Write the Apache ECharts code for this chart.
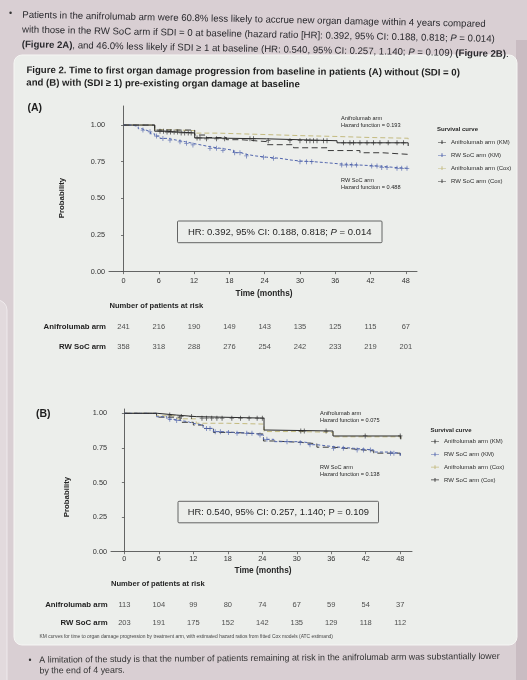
<!DOCTYPE html>
<html lang="en">
<head>
    <meta charset="UTF-8">
    <title>Figure 2 - time to organ damage</title>
    <script src="https://cdn.jsdelivr.net/npm/echarts@6/dist/echarts.min.js"></script>
    <style>
        html, body { margin: 0; padding: 0; background: #d9cfd3; }
        #main { width: 527px; height: 680px; }
    </style>
</head>
<body>
<div id="main"></div>
<script>
    var FONT = 'Liberation Sans, Arial, sans-serif';

    // ---- data (months, survival probability) ----
    var xTicks = [0, 6, 12, 18, 24, 30, 36, 42, 48];
    var yTicks = [0, 0.25, 0.5, 0.75, 1];
    var rowNames = ['Anifrolumab arm', 'RW SoC arm'];
    var legendNames = ['Anifrolumab arm (KM)', 'RW SoC arm (KM)', 'Anifrolumab arm (Cox)', 'RW SoC arm (Cox)'];

    // (A) SDI = 0
    var aniKmA = [[0,1],[5.3,0.958],[7,0.952],[9.5,0.946],[12.1,0.912],[14,0.906],[24.3,0.893],[36.3,0.879],[48.4,0.857]];
    var rwKmA = [[0,1],[1.5,0.99],[2.5,0.975],[3.1,0.966],[3.8,0.954],[4.6,0.94],[5.3,0.925],[6.2,0.909],[7.5,0.897],[9,0.886],
        [10.5,0.875],[11.8,0.864],[13.2,0.852],[14.7,0.841],[16.5,0.828],[18.7,0.811],[20,0.8],[20.9,0.789],[22.5,0.781],
        [24.3,0.773],[26.6,0.761],[28.5,0.755],[30,0.75],[32.3,0.743],[34.5,0.735],[36.8,0.727],[40.2,0.72],[43.6,0.711],
        [46,0.705],[48.4,0.698]];
    var coxAniA = [[0,1],[5.3,0.968],[8,0.962],[12.1,0.945],[16,0.94],[20,0.935],[24.3,0.928],[30,0.922],[36.3,0.915],[42,0.91],[48.4,0.903]];
    var coxRwA = [[0,1],[5.3,0.966],[12.1,0.932],[14,0.915],[17.5,0.9],[20,0.887],[24.3,0.866],[28.9,0.845],[34.6,0.826],[40.2,0.811],[44,0.8],[48.4,0.791]];
    var aniCensorA = [6.2,6.8,7.4,8,8.6,9.2,9.8,10.4,11,11.5,12.5,13,14.1,15.8,17.2,21.5,22.1,24.6,28.3,30,31.1,31.7,32.3,32.9,
        34,34.6,37.4,38.5,39.1,40.2,41.4,42.5,43.6,45,46.5,47.6];
    var rwCensorA = [3.3,4.5,5.6,6.7,7.9,9.6,10.7,11.8,14.7,15.8,16.9,18.9,19.8,20.9,23.8,25.5,30,31.1,32,37.1,37.9,38.8,
        39.6,42.2,43.1,43.9,44.8,46.5,47.3,48.2];
    var riskAniA = [241, 216, 190, 149, 143, 135, 125, 115, 67];
    var riskRwA = [358, 318, 288, 276, 254, 242, 233, 219, 201];

    // (B) SDI >= 1
    var aniKmB = [[0,1],[5.7,0.987],[9.1,0.976],[12.5,0.965],[24.3,0.879],[25,0.872],[36.3,0.836],[48.1,0.812]];
    var rwKmB = [[0,1],[5.6,0.975],[7.4,0.957],[8.5,0.948],[9.7,0.94],[11,0.927],[12,0.915],[13.7,0.891],[15.5,0.867],[17,0.862],
        [19,0.855],[22.5,0.843],[24.2,0.812],[26,0.795],[30.6,0.788],[32,0.773],[33.5,0.759],[36.4,0.747],[39.9,0.735],
        [43.4,0.72],[46.3,0.711],[48,0.682]];
    var coxAniB = [[0,1],[5.6,0.982],[9.1,0.96],[12.5,0.928],[18,0.922],[24.3,0.868],[30.6,0.862],[36.3,0.83],[48.1,0.818]];
    var coxRwB = [[0,1],[5.6,0.972],[9.7,0.935],[12,0.915],[13.7,0.89],[15.5,0.862],[19,0.85],[24.2,0.8],[26,0.79],[30.6,0.78],
        [33.5,0.755],[36.4,0.742],[39.9,0.728],[43.4,0.712],[48,0.69]];
    var aniCensorB = [7.9,9.9,11.7,13.5,14.3,15.2,16.1,17,18.7,20.2,21.7,23.1,24,30.7,31.3,35.1,41.9,48];
    var rwCensorB = [7.9,9.1,14.3,14.9,15.8,16.7,18.1,19.6,21.3,22.2,23.6,24.8,28.3,30.6,32.3,36.4,38.1,40.5,41.6,42.8,46.3,46.9];
    var riskAniB = [113, 104, 99, 80, 74, 67, 59, 54, 37];
    var riskRwB = [203, 191, 175, 152, 142, 135, 129, 118, 112];

    // ---- helpers ----
    // value of a KM step curve at time t
    function stepAt(curve, t) {
        var v = curve[0][1];
        for (var i = 0; i < curve.length; i++) {
            if (curve[i][0] <= t) v = curve[i][1];
        }
        return v;
    }
    function censorPoints(curve, times) {
        return times.map(function (t) { return [t, stepAt(curve, t)]; });
    }
    function riskRows(ani, rw) {
        var out = [];
        xTicks.forEach(function (m, i) {
            out.push([m, rowNames[0], ani[i]]);
            out.push([m, rowNames[1], rw[i]]);
        });
        return out;
    }

    var plusSymbol = 'path://M-0.45,-3H0.45V-0.45H2.5V0.45H0.45V3H-0.45V0.45H-2.5V-0.45H-0.45Z';
    var legendIcon = 'path://M0,2.6H10V3.4H0Z M4.4,0.6H5.6V5.4H4.4Z';

    var colAniKm = '#2b2b2b', colRwKm = '#5165ad', colAniCox = '#c4bb80', colRwCox = '#3a3a3a';

    function lineSeries(name, data, idx, color, dash, width) {
        return {
            name: name, type: 'line', step: 'end', data: data,
            xAxisIndex: idx, yAxisIndex: idx, symbol: 'none', silent: true,
            itemStyle: { color: color },
            lineStyle: { color: color, width: width || 1, type: dash || 'solid' },
            z: dash ? 2 : 3
        };
    }
    function censorSeries(data, idx, color) {
        return {
            type: 'scatter', data: data, xAxisIndex: idx, yAxisIndex: idx,
            symbol: plusSymbol, symbolSize: [4.5, 5], silent: true,
            itemStyle: { color: color }, z: 4
        };
    }
    function riskSeries(data, idx) {
        return {
            type: 'scatter', data: data, xAxisIndex: idx, yAxisIndex: idx,
            symbolSize: 1, silent: true, itemStyle: { color: 'transparent' },
            label: { show: true, position: 'inside', fontFamily: FONT, fontSize: 7.5, color: '#262626',
                formatter: function (p) { return p.value[2]; } }
        };
    }

    function plotX(idx, gridIdx, min, max, labelMargin) {
        return {
            type: 'value', gridIndex: gridIdx, min: min, max: max,
            axisLine: { show: true, lineStyle: { color: '#555', width: 0.9 } },
            axisTick: { show: true, length: 2.5, customValues: xTicks, lineStyle: { color: '#555', width: 0.8 } },
            axisLabel: { customValues: xTicks, fontFamily: FONT, fontSize: 7.3, color: '#333', margin: labelMargin },
            splitLine: { show: false }
        };
    }
    function plotY(gridIdx, max) {
        return {
            type: 'value', gridIndex: gridIdx, min: 0, max: max,
            axisLine: { show: true, lineStyle: { color: '#555', width: 0.9 } },
            axisTick: { show: true, length: 2.5, customValues: yTicks, lineStyle: { color: '#555', width: 0.8 } },
            axisLabel: { customValues: yTicks, fontFamily: FONT, fontSize: 7.3, color: '#333', margin: 4,
                formatter: function (v) { return v.toFixed(2); } },
            splitLine: { show: false }
        };
    }
    function riskX(gridIdx, min, max) {
        return { type: 'value', gridIndex: gridIdx, min: min, max: max, show: false };
    }
    function riskY(gridIdx, margin) {
        return {
            type: 'category', gridIndex: gridIdx, data: rowNames, inverse: true,
            axisLine: { show: false }, axisTick: { show: false },
            axisLabel: { fontFamily: FONT, fontSize: 7.8, fontWeight: 'bold', color: '#222', margin: margin }
        };
    }

    function text(x, y, str, size, extra) {
        var style = { text: str, fontFamily: FONT, fontSize: size, fill: '#262626', verticalAlign: 'middle', align: 'left' };
        for (var k in extra) style[k] = extra[k];
        return { type: 'text', x: x, y: y, style: style, silent: true };
    }

    var topRich = {
        n: { fontFamily: FONT, fontSize: 9.6, lineHeight: 14.8, fill: '#2a2a2e' },
        b: { fontFamily: FONT, fontSize: 9.6, lineHeight: 14.8, fill: '#2a2a2e', fontWeight: 'bold' },
        i: { fontFamily: FONT, fontSize: 9.6, lineHeight: 14.8, fill: '#2a2a2e', fontStyle: 'italic' }
    };
    var topText =
        '{n|Patients in the anifrolumab arm were 60.8% less likely to accrue new organ damage within 4 years compared}\n' +
        '{n|with those in the RW SoC arm if SDI = 0 at baseline (hazard ratio [HR]: 0.392, 95% CI: 0.188, 0.818; }{i|P}{n| = 0.014)}\n' +
        '{b|(Figure 2A)}{n|, and 46.0% less likely if SDI ≥ 1 at baseline (HR: 0.540, 95% CI: 0.257, 1.140; }{i|P}{n| = 0.109) }{b|(Figure 2B)}{n|.}';

    var hrRich = {
        n: { fontFamily: FONT, fontSize: 9.5, fill: '#262626' },
        i: { fontFamily: FONT, fontSize: 9.5, fill: '#262626', fontStyle: 'italic' }
    };

    var graphics = [
        // left fragment of the neighbouring panel and the right edge of the photo
        { type: 'rect', shape: { x: -40, y: 300, width: 47, height: 420, r: 10 }, style: { fill: '#e2dadd', stroke: '#efeaec', lineWidth: 1 }, silent: true, z: -10 },
        { type: 'rect', shape: { x: 516, y: 40, width: 20, height: 640 }, style: { fill: '#c9bcc2' }, silent: true, z: -10 },
        // main figure panel
        { type: 'rect', shape: { x: 14, y: 55, width: 503, height: 590, r: 8 }, style: { fill: '#eceeeb', stroke: '#f6f6f4', lineWidth: 1 }, silent: true, z: -9 },

        text(9, 13.5, '•', 9, { fill: '#333' }),
        { type: 'text', x: 22.5, y: 7.6, rotation: -0.02, silent: true,
          style: { text: topText, rich: topRich, fontFamily: FONT, fontSize: 9.6, lineHeight: 14.8, verticalAlign: 'top', fill: '#2a2a2e' } },

        { type: 'text', x: 26.5, y: 64, rotation: -0.006, silent: true,
          style: { text: 'Figure 2. Time to first organ damage progression from baseline in patients (A) without (SDI = 0)\nand (B) with (SDI ≥ 1) pre-existing organ damage at baseline',
                   fontFamily: FONT, fontSize: 9.6, fontWeight: 'bold', lineHeight: 12.6, fill: '#1f1f1f', verticalAlign: 'top' } },

        text(27.5, 108.5, '(A)', 10.5, { fontWeight: 'bold', fill: '#1f1f1f' }),
        text(36, 414, '(B)', 10.5, { fontWeight: 'bold', fill: '#1f1f1f' }),

        // axis titles
        { type: 'text', x: 62, y: 198, rotation: Math.PI / 2, silent: true,
          style: { text: 'Probability', fontFamily: FONT, fontSize: 7.8, fontWeight: 'bold', fill: '#262626', align: 'center', verticalAlign: 'middle' } },
        { type: 'text', x: 67, y: 497, rotation: Math.PI / 2, silent: true,
          style: { text: 'Probability', fontFamily: FONT, fontSize: 7.8, fontWeight: 'bold', fill: '#262626', align: 'center', verticalAlign: 'middle' } },
        text(264, 294, 'Time (months)', 8.3, { fontWeight: 'bold', align: 'center' }),
        text(263, 570.8, 'Time (months)', 8.3, { fontWeight: 'bold', align: 'center' }),

        // curve annotations
        text(341, 118.3, 'Anifrolumab arm', 5.6),
        text(341, 125.7, 'Hazard function = 0.193', 5.6),
        text(341, 180.7, 'RW SoC arm', 5.6),
        text(341, 187.7, 'Hazard function = 0.488', 5.6),
        text(320, 413.8, 'Anifrolumab arm', 5.6),
        text(320, 420.5, 'Hazard function = 0.075', 5.6),
        text(320, 467.6, 'RW SoC arm', 5.6),
        text(320, 474.3, 'Hazard function = 0.138', 5.6),

        text(437, 129.5, 'Survival curve', 6, { fontWeight: 'bold' }),
        text(430.5, 430.6, 'Survival curve', 6, { fontWeight: 'bold' }),

        // HR boxes
        { type: 'rect', shape: { x: 177.5, y: 221, width: 204.5, height: 21.7, r: 1 }, style: { fill: 'none', stroke: '#555', lineWidth: 0.9 }, silent: true },
        { type: 'text', x: 279.7, y: 232, silent: true,
          style: { text: '{n|HR: 0.392, 95% CI: 0.188, 0.818; }{i|P}{n| = 0.014}', rich: hrRich, fontFamily: FONT, fontSize: 9.5, align: 'center', verticalAlign: 'middle' } },
        { type: 'rect', shape: { x: 178, y: 501.3, width: 200.5, height: 21.5, r: 1 }, style: { fill: 'none', stroke: '#555', lineWidth: 0.9 }, silent: true },
        text(278.3, 512.2, 'HR: 0.540, 95% CI: 0.257, 1.140; P = 0.109', 9.4, { align: 'center' }),

        text(109.5, 306, 'Number of patients at risk', 7.6, { fontWeight: 'bold' }),
        text(111, 584.3, 'Number of patients at risk', 7.6, { fontWeight: 'bold' }),

        text(39.5, 637, 'KM curves for time to organ damage progression by treatment arm, with estimated hazard ratios from fitted Cox models (ATC estimand)', 4.9, { fill: '#444' }),

        text(28.5, 661, '•', 8.5, { fill: '#333' }),
        { type: 'text', x: 39.3, y: 654.8, rotation: 0.008, silent: true,
          style: { text: 'A limitation of the study is that the number of patients remaining at risk in the anifrolumab arm was substantially lower\nby the end of 4 years.',
                   fontFamily: FONT, fontSize: 8.9, lineHeight: 10.8, fill: '#333', verticalAlign: 'top' } }
    ];

    var legendBase = {
        data: legendNames, orient: 'vertical', icon: legendIcon, itemWidth: 8, itemHeight: 5,
        itemGap: 7, padding: 0, selectedMode: false,
        textStyle: { fontFamily: FONT, fontSize: 6, color: '#2c2c2c' }
    };
    var legendA = Object.assign({}, legendBase, { left: 438, top: 139.2 });
    var legendB = Object.assign({}, legendBase, { left: 431, top: 438.5, itemGap: 6.8 });

    var option = {
        backgroundColor: '#d9cfd3',
        animation: false,
        legend: [legendA, legendB],
        grid: [
            { left: 109, top: 106, width: 308, height: 165.6 },
            { left: 111, top: 409, width: 301, height: 142.7 },
            { left: 109, top: 316.2, width: 308, height: 41 },
            { left: 111, top: 595.3, width: 301, height: 37 }
        ],
        xAxis: [
            plotX(0, 0, -2.47, 49.9, 5.5),
            plotX(1, 1, -2.33, 50.05, 3.5),
            riskX(2, -2.47, 49.9),
            riskX(3, -2.33, 50.05)
        ],
        yAxis: [
            plotY(0, 1.13),
            plotY(1, 1.031),
            riskY(2, 3),
            riskY(3, 3.4)
        ],
        series: [
            lineSeries(legendNames[2], coxAniA, 0, colAniCox, [5, 3], 1),
            lineSeries(legendNames[3], coxRwA, 0, colRwCox, [6, 3.5], 1),
            lineSeries(legendNames[1], rwKmA, 0, colRwKm, [3, 2], 1),
            lineSeries(legendNames[0], aniKmA, 0, colAniKm, null, 1),
            censorSeries(censorPoints(rwKmA, rwCensorA), 0, colRwKm),
            censorSeries(censorPoints(aniKmA, aniCensorA), 0, colAniKm),

            lineSeries(legendNames[2], coxAniB, 1, colAniCox, [5, 3], 1),
            lineSeries(legendNames[3], coxRwB, 1, colRwCox, [6, 3.5], 1),
            lineSeries(legendNames[1], rwKmB, 1, colRwKm, [3, 2], 1),
            lineSeries(legendNames[0], aniKmB, 1, colAniKm, null, 1),
            censorSeries(censorPoints(rwKmB, rwCensorB), 1, colRwKm),
            censorSeries(censorPoints(aniKmB, aniCensorB), 1, colAniKm),

            riskSeries(riskRows(riskAniA, riskRwA), 2),
            riskSeries(riskRows(riskAniB, riskRwB), 3)
        ],
        graphic: graphics
    };

    var myChart = echarts.init(document.getElementById('main'), null, { renderer: 'canvas' });
    myChart.setOption(option);
</script>
</body>
</html>
